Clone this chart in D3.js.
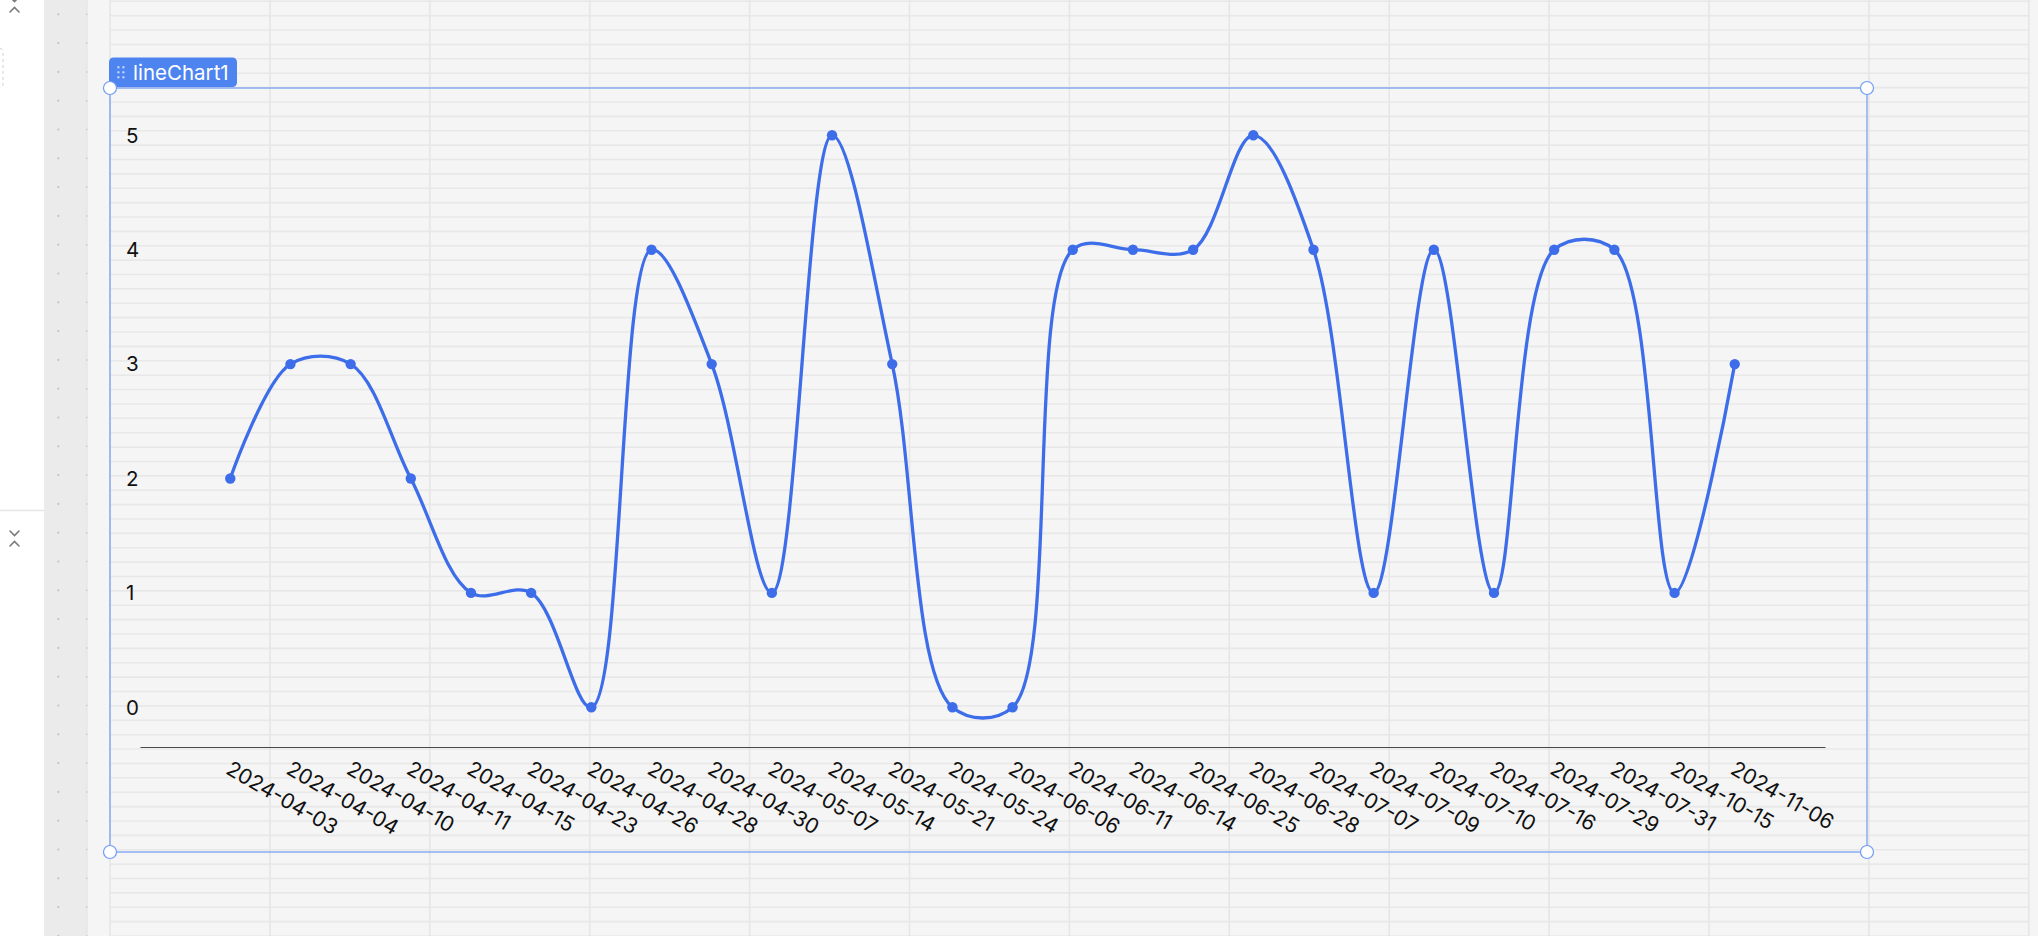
<!DOCTYPE html>
<html>
<head>
<meta charset="utf-8">
<script src="https://cdn.jsdelivr.net/npm/d3@7"></script>
<style>
  html, body { margin: 0; padding: 0; background: #f5f5f5; overflow: hidden; }
  svg { display: block; font-family: Inter, "Noto Sans", sans-serif; }
</style>
</head>
<body>
<svg id="chart" width="2038" height="936"></svg>
<script>
// ---- data ----
const categories = ["2024-04-03","2024-04-04","2024-04-10","2024-04-11","2024-04-15","2024-04-23","2024-04-26","2024-04-28","2024-04-30","2024-05-07","2024-05-14","2024-05-21","2024-05-24","2024-06-06","2024-06-11","2024-06-14","2024-06-25","2024-06-28","2024-07-07","2024-07-09","2024-07-10","2024-07-16","2024-07-29","2024-07-31","2024-10-15","2024-11-06"];
const values = [2,3,3,2,1,1,0,4,3,1,5,3,0,0,4,4,4,5,4,1,4,1,4,4,1,3];
const yTicks = [0,1,2,3,4,5];
const widgetName = "lineChart1";

const W = 2038, H = 936;
const svg = d3.select("#chart");

// ---- editor background ----
svg.append("rect").attr("x",0).attr("y",0).attr("width",W).attr("height",H).attr("fill","#f5f5f5");
// left white panel
svg.append("rect").attr("x",0).attr("y",0).attr("width",44).attr("height",H).attr("fill","#ffffff");
svg.append("line").attr("x1",0).attr("x2",44).attr("y1",510.5).attr("y2",510.5).attr("stroke","#e6e6e6").attr("stroke-width",1.5);
svg.append("rect").attr("x",-40).attr("y",48).attr("width",43).attr("height",40).attr("rx",4)
  .attr("fill","none").attr("stroke","#d0d0d0").attr("stroke-dasharray","3,3");
function chevrons(cy){
  const g = svg.append("g").attr("fill","none").attr("stroke","#7a7a7a").attr("stroke-width",1.6).attr("stroke-linecap","round");
  g.append("path").attr("d",`M10,${cy-7} L14.5,${cy-2.5} L19,${cy-7}`);
  g.append("path").attr("d",`M10,${cy+8} L14.5,${cy+3.5} L19,${cy+8}`);
}
chevrons(4);
chevrons(538);
// gray column
svg.append("rect").attr("x",44).attr("y",0).attr("width",43).attr("height",H).attr("fill","#ebebeb");
svg.append("line").attr("x1",87).attr("x2",87).attr("y1",0).attr("y2",H).attr("stroke","#e2e2e2").attr("stroke-width",1);
const dotRows = d3.range(0, 33).map(k => 14.3 + k*28.8);
svg.append("g").selectAll("circle").data(dotRows).join("circle")
  .attr("cx",58.3).attr("cy",d=>d).attr("r",1.1).attr("fill","#c4c4c4");
svg.append("g").selectAll("circle").data(dotRows).join("circle")
  .attr("cx",86.8).attr("cy",d=>d).attr("r",1.0).attr("fill","#d2d2d2");

// grid region
const grid = svg.append("g");
const hLines = d3.range(0, 66).map(k => 1.3 + k*14.38);
grid.selectAll("line.h").data(hLines).join("line").attr("class","h")
  .attr("x1",110).attr("x2",2029).attr("y1",d=>d).attr("y2",d=>d)
  .attr("stroke","#e8e8e8").attr("stroke-width",1.6);
const vLines = d3.range(0, 13).map(k => 110 + k*159.9);
grid.selectAll("line.v").data(vLines).join("line").attr("class","v")
  .attr("x1",d=>d).attr("x2",d=>d).attr("y1",0).attr("y2",H)
  .attr("stroke","#e6e6e6").attr("stroke-width",1.6);

// ---- chart ----
const lineColor = "#3d6de9";
const x = d3.scalePoint().domain(categories).range([140, 1825]).padding(1.5);
const y = d3.scaleLinear().domain([0, 5]).range([707.3, 135.3]);

const chart = svg.append("g");

// axis line (x axis)
const xAxis = d3.axisBottom(x).tickSize(0).tickFormat("");
chart.append("g").attr("transform","translate(0,747)").call(xAxis)
  .call(g => g.select(".domain").attr("stroke","#4a4a4a").attr("stroke-width",1.2));

// x labels
chart.append("g").selectAll("text").data(categories).join("text")
  .attr("transform", d => `translate(${x(d)-5.5},773) rotate(30)`)
  .attr("font-size",21).attr("fill","#111111").attr("text-anchor","start")
  .text(d => d);

// y labels
chart.append("g").selectAll("text").data(yTicks).join("text")
  .attr("x",126).attr("y",d=>y(d)).attr("dy","0.36em")
  .attr("font-size",20.5).attr("fill","#111111").text(d=>d);

// line
const line = d3.line()
  .x((d,i) => x(categories[i]))
  .y(d => y(d))
  .curve(d3.curveCatmullRom.alpha(0.5));
chart.append("path").datum(values).attr("d",line)
  .attr("fill","none").attr("stroke",lineColor).attr("stroke-width",3.3).attr("stroke-linejoin","round");
chart.append("g").selectAll("circle").data(values).join("circle")
  .attr("cx",(d,i)=>x(categories[i])).attr("cy",d=>y(d)).attr("r",5.2).attr("fill",lineColor);

// ---- selection frame ----
const frameColor = "#6f9bf4";
svg.append("rect").attr("x",110).attr("y",88).attr("width",1757).attr("height",764)
  .attr("fill","none").attr("stroke",frameColor).attr("stroke-width",1.2);
// badge
const badge = svg.append("g");
badge.append("rect").attr("x",109).attr("y",57.5).attr("width",128).attr("height",29.5).attr("rx",4.5).attr("fill","#4d84f0");
const bd = [];
[118.4,123.4].forEach(cx => [67.3,72.3,77.3].forEach(cy => bd.push([cx,cy])));
badge.selectAll("circle").data(bd).join("circle").attr("cx",d=>d[0]).attr("cy",d=>d[1]).attr("r",1.2)
  .attr("fill","#ffffff").attr("fill-opacity",0.6);
badge.append("text").attr("x",133).attr("y",79.5).attr("font-size",20.5).attr("fill","#ffffff").text(widgetName);
// handles
const corners = [[110,88],[1867,88],[110,852],[1867,852]];
svg.append("g").selectAll("circle").data(corners).join("circle")
  .attr("cx",d=>d[0]).attr("cy",d=>d[1]).attr("r",6.5)
  .attr("fill","#ffffff").attr("stroke",frameColor).attr("stroke-width",1.2);
</script>
</body>
</html>
